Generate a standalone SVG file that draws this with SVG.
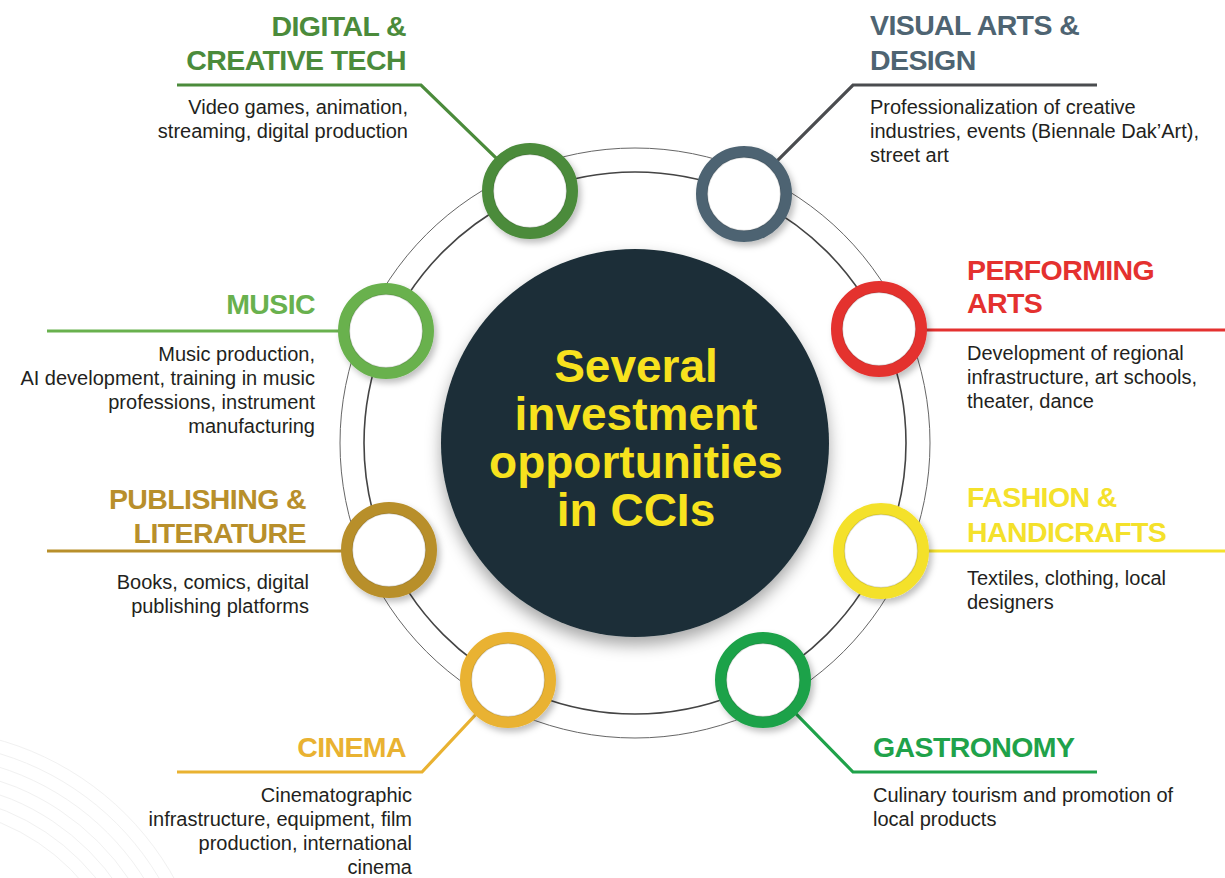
<svg xmlns="http://www.w3.org/2000/svg" width="1225" height="878" viewBox="0 0 1225 878">
<style>
.title{font-family:"Liberation Sans",Arial,sans-serif;font-weight:bold;font-size:28.5px;letter-spacing:-0.6px}
.body{font-family:"Liberation Sans",Arial,sans-serif;font-size:20px;fill:#231f20}
.center{font-family:"Liberation Sans",Arial,sans-serif;font-weight:bold;font-size:46px;fill:#f7e21e;text-anchor:middle}
.end{text-anchor:end}
.conn{fill:none;stroke-width:3.2}
.ring{fill:#fff;stroke-width:11.5;filter:url(#sh)}
.inner{fill:none;stroke:#000;stroke-opacity:0.12;stroke-width:1.5}
.bg{fill:none;stroke:#f1f1f1;stroke-width:1}
</style>
<defs>
<filter id="sh" x="-30%" y="-30%" width="160%" height="160%">
<feDropShadow dx="3" dy="4" stdDeviation="3" flood-color="#000" flood-opacity="0.25"/>
</filter>
<filter id="shc" x="-20%" y="-20%" width="140%" height="140%">
<feDropShadow dx="0" dy="8" stdDeviation="8" flood-color="#000" flood-opacity="0.35"/>
</filter>
</defs>
<rect width="1225" height="878" fill="#fff"/>
<g id="background">
<circle class="bg" cx="-80" cy="1020" r="291"/>
<circle class="bg" cx="-80" cy="1020" r="278"/>
<circle class="bg" cx="-80" cy="1020" r="265"/>
<circle class="bg" cx="-80" cy="1020" r="252"/>
<circle class="bg" cx="-80" cy="1020" r="239"/>
<circle class="bg" cx="-80" cy="1020" r="226"/>
<circle class="bg" cx="-80" cy="1020" r="213"/>
</g>
<g id="rings">
<circle cx="635" cy="443" r="295" fill="none" stroke="#666" stroke-width="1"/>
<circle cx="635" cy="443" r="271" fill="none" stroke="#444" stroke-width="1.6"/>
</g>
<g id="center">
<circle cx="635" cy="443" r="194" fill="#1b2e37" filter="url(#shc)"/>
<text class="center" x="636" y="382">Several</text>
<text class="center" x="636" y="430">investment</text>
<text class="center" x="636" y="478">opportunities</text>
<text class="center" x="636" y="526">in CCIs</text>
</g>
<g id="connectors">
<polyline class="conn" stroke="#4b8b3b" points="177,85 421,85 530,191"/>
<polyline class="conn" stroke="#4a4c4f" points="1097,85 853,85 744,194"/>
<polyline class="conn" stroke="#69b14e" points="47,331 386,331"/>
<polyline class="conn" stroke="#e4312f" points="1225,330 879,330"/>
<polyline class="conn" stroke="#b88f2b" points="47,551 389,551"/>
<polyline class="conn" stroke="#f4e12b" points="1225,551 881,551"/>
<polyline class="conn" stroke="#e9b231" points="177,772 422,772 508,680"/>
<polyline class="conn" stroke="#1fa24a" points="1097,772 853,772 763,680"/>
</g>
<g id="digital">
<circle class="ring" cx="530" cy="191" r="42.25" stroke="#4b8b3b"/>
<circle class="inner" cx="530" cy="191" r="36.5"/>
<text class="title end" x="406" y="36" fill="#4b8b3b">DIGITAL &amp;</text>
<text class="title end" x="406" y="70" fill="#4b8b3b">CREATIVE TECH</text>
<text class="body end" x="408" y="114">Video games, animation,</text>
<text class="body end" x="408" y="138">streaming, digital production</text>
</g>
<g id="visual">
<circle class="ring" cx="744" cy="194" r="42.25" stroke="#4e6472"/>
<circle class="inner" cx="744" cy="194" r="36.5"/>
<text class="title" x="870" y="35" fill="#4e6472">VISUAL ARTS &amp;</text>
<text class="title" x="870" y="70" fill="#4e6472">DESIGN</text>
<text class="body" x="870" y="114">Professionalization of creative</text>
<text class="body" x="870" y="138">industries, events (Biennale Dak’Art),</text>
<text class="body" x="870" y="162">street art</text>
</g>
<g id="music">
<circle class="ring" cx="386" cy="331" r="42.25" stroke="#69b14e"/>
<circle class="inner" cx="386" cy="331" r="36.5"/>
<text class="title end" x="315" y="314" fill="#69b14e">MUSIC</text>
<text class="body end" x="315" y="361">Music production,</text>
<text class="body end" x="315" y="385">AI development, training in music</text>
<text class="body end" x="315" y="409">professions, instrument</text>
<text class="body end" x="315" y="433">manufacturing</text>
</g>
<g id="performing">
<circle class="ring" cx="879" cy="329" r="42.25" stroke="#e4312f"/>
<circle class="inner" cx="879" cy="329" r="36.5"/>
<text class="title" x="967" y="280" fill="#e4312f">PERFORMING</text>
<text class="title" x="967" y="313" fill="#e4312f">ARTS</text>
<text class="body" x="967" y="360">Development of regional</text>
<text class="body" x="967" y="384">infrastructure, art schools,</text>
<text class="body" x="967" y="408">theater, dance</text>
</g>
<g id="publishing">
<circle class="ring" cx="389" cy="550" r="42.25" stroke="#b88f2b"/>
<circle class="inner" cx="389" cy="550" r="36.5"/>
<text class="title end" x="306" y="509" fill="#b88f2b">PUBLISHING &amp;</text>
<text class="title end" x="306" y="543" fill="#b88f2b">LITERATURE</text>
<text class="body end" x="309" y="589">Books, comics, digital</text>
<text class="body end" x="309" y="613">publishing platforms</text>
</g>
<g id="fashion">
<circle class="ring" cx="881" cy="551" r="42.25" stroke="#f4e12b"/>
<circle class="inner" cx="881" cy="551" r="36.5"/>
<text class="title" x="967" y="507" fill="#f4e12b">FASHION &amp;</text>
<text class="title" x="967" y="542" fill="#f4e12b">HANDICRAFTS</text>
<text class="body" x="967" y="585">Textiles, clothing, local</text>
<text class="body" x="967" y="609">designers</text>
</g>
<g id="cinema">
<circle class="ring" cx="508" cy="680" r="42.25" stroke="#e9b231"/>
<circle class="inner" cx="508" cy="680" r="36.5"/>
<text class="title end" x="406" y="757" fill="#e9b231">CINEMA</text>
<text class="body end" x="412" y="802">Cinematographic</text>
<text class="body end" x="412" y="826">infrastructure, equipment, film</text>
<text class="body end" x="412" y="850">production, international</text>
<text class="body end" x="412" y="874">cinema</text>
</g>
<g id="gastronomy">
<circle class="ring" cx="763" cy="680" r="42.25" stroke="#1fa24a"/>
<circle class="inner" cx="763" cy="680" r="36.5"/>
<text class="title" x="873" y="757" fill="#1fa24a">GASTRONOMY</text>
<text class="body" x="873" y="802">Culinary tourism and promotion of</text>
<text class="body" x="873" y="826">local products</text>
</g>
</svg>
